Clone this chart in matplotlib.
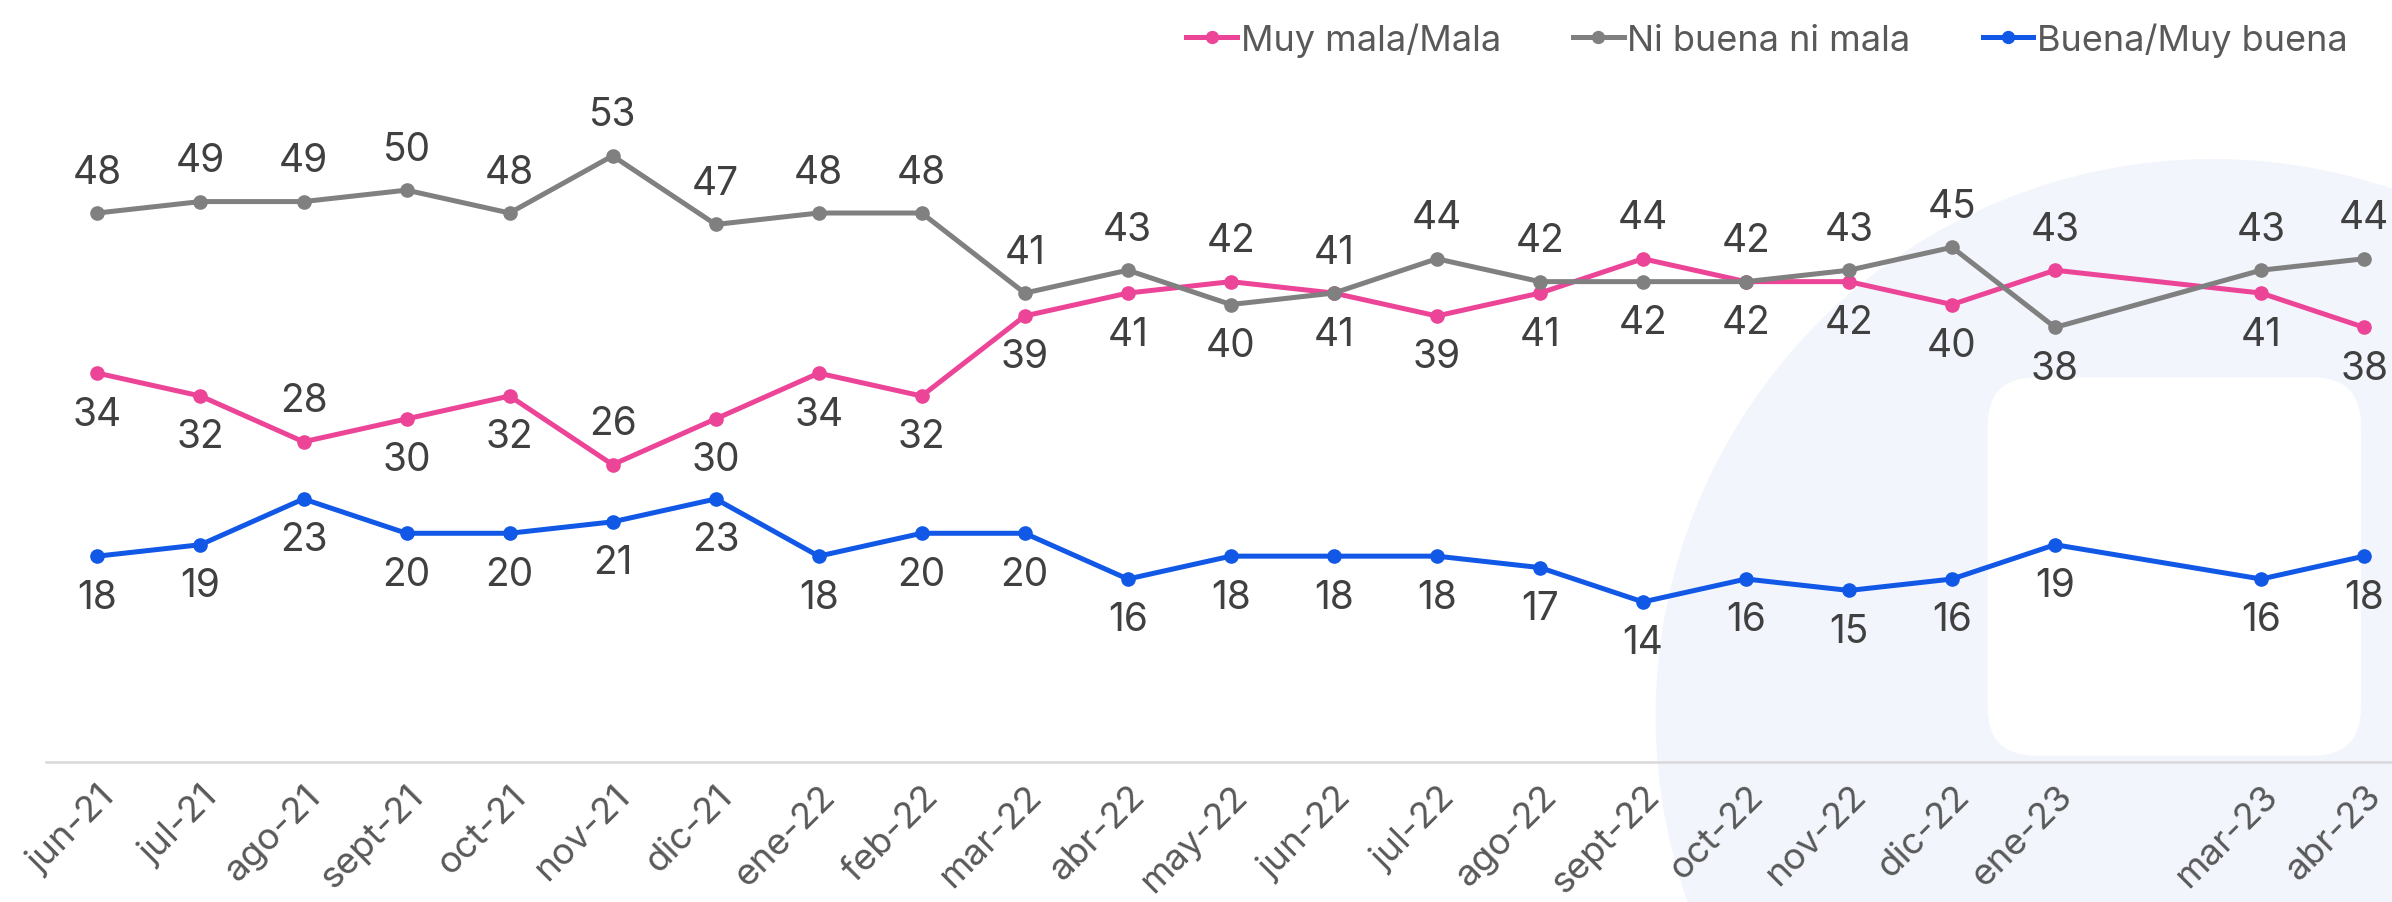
import numpy as np
import matplotlib
matplotlib.use("Agg")
import matplotlib.pyplot as plt
from matplotlib.patches import Ellipse, FancyBboxPatch

plt.rcParams['font.family'] = ['Inter', 'DejaVu Sans']

# survey months (feb-23 has no measurement)
meses = ['2021-06', '2021-07', '2021-08', '2021-09', '2021-10', '2021-11', '2021-12',
         '2022-01', '2022-02', '2022-03', '2022-04', '2022-05', '2022-06', '2022-07',
         '2022-08', '2022-09', '2022-10', '2022-11', '2022-12', '2023-01', '2023-03',
         '2023-04']
etiquetas = ['jun-21', 'jul-21', 'ago-21', 'sept-21', 'oct-21', 'nov-21', 'dic-21',
             'ene-22', 'feb-22', 'mar-22', 'abr-22', 'may-22', 'jun-22', 'jul-22',
             'ago-22', 'sept-22', 'oct-22', 'nov-22', 'dic-22', 'ene-23', 'mar-23',
             'abr-23']

mala = [34, 32, 28, 30, 32, 26, 30, 34, 32, 39, 41, 42, 41, 39, 41, 44, 42, 42, 40, 43, 41, 38]
ni = [48, 49, 49, 50, 48, 53, 47, 48, 48, 41, 43, 40, 41, 44, 42, 42, 42, 43, 45, 38, 43, 44]
buena = [18, 19, 23, 20, 20, 21, 23, 18, 20, 20, 16, 18, 18, 18, 17, 14, 16, 15, 16, 19, 16, 18]

# label placement: 1 = above the point, -1 = below
pos_mala = [-1, -1, 1, -1, -1, 1, -1, -1, -1, -1, -1, 1, -1, -1, -1, 1, 1, -1, -1, 1, -1, -1]
pos_ni = [1, 1, 1, 1, 1, 1, 1, 1, 1, 1, 1, -1, 1, 1, 1, -1, -1, 1, 1, -1, 1, 1]
pos_buena = [-1] * len(buena)

d = np.array(meses, dtype='datetime64[M]')
x = (d - d[0]).astype(int)

fig = plt.figure(figsize=(23.92, 9.03), dpi=100)

# faint logo watermark
fondo = '#f2f5fc'
fig.add_artist(Ellipse((0.925, 0.206), 2 * 557 / 2392, 2 * 557 / 903,
                       transform=fig.transFigure, facecolor=fondo, edgecolor='none', zorder=0))
fig.add_artist(FancyBboxPatch((0.831, 0.162), 0.156, 0.419,
                              boxstyle='round,pad=0,rounding_size=0.02',
                              mutation_aspect=2392 / 903,
                              transform=fig.transFigure, facecolor='white',
                              edgecolor='none', zorder=0))

ax = fig.add_axes([0.0192, 0.155, 0.9808, 0.76])
ax.patch.set_alpha(0)

series = [
    ('Muy mala/Mala', mala, pos_mala, '#ec4497'),
    ('Ni buena ni mala', ni, pos_ni, '#808080'),
    ('Buena/Muy buena', buena, pos_buena, '#1158e6'),
]
for nombre, vals, pos, color in series:
    ax.plot(x, vals, color=color, lw=3.6, marker='o', ms=9.5, label=nombre,
            solid_joinstyle='round')
    for xi, v, p in zip(x, vals, pos):
        ax.annotate(str(v), (xi, v), xytext=(0, 29.5 * p), textcoords='offset points',
                    ha='center', va='center', fontsize=28, color='#404040')

ax.set_ylim(0, 60)
ax.set_xlim(-0.5, 22.27)
ax.set_yticks([])
ax.set_xticks(x)
ax.set_xticklabels(etiquetas, rotation=45, ha='right', rotation_mode='anchor',
                   fontsize=26.5, color='#595959')
ax.tick_params(axis='x', length=0, pad=12)
for s in ['top', 'right', 'left']:
    ax.spines[s].set_visible(False)
ax.spines['bottom'].set_color('#d9d9d9')
ax.spines['bottom'].set_linewidth(1.8)

leg = fig.legend(loc='upper right', bbox_to_anchor=(0.995, 1.01), ncol=3, frameon=False,
                 fontsize=26, handlelength=1.4, handletextpad=0.1, columnspacing=2.0,
                 markerscale=0.9)
for t in leg.get_texts():
    t.set_color('#595959')

fig.savefig('out.png', dpi=100, facecolor='white')
